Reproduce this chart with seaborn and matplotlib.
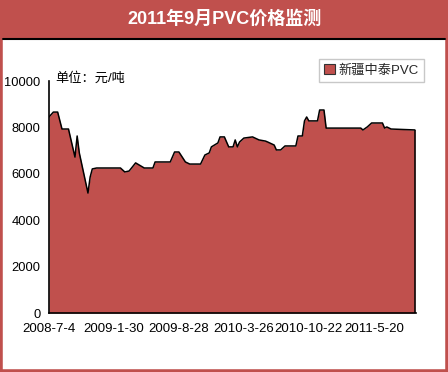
import matplotlib
matplotlib.use("Agg")
import matplotlib.pyplot as plt
import seaborn as sns
import pandas as pd
import numpy as np
from matplotlib.patches import Rectangle
from matplotlib.lines import Line2D

sns.set_theme(style="white")
plt.rcParams['font.family'] = ['Liberation Sans', 'Noto Sans CJK SC', 'DejaVu Sans']

title = "2011年9月PVC价格监测"
unit_label = "单位：元/吨"
series_name = "新疆中泰PVC"
start_date = "2008-07-04"
tick_dates = ["2008-07-04", "2009-01-30", "2009-08-28", "2010-03-26", "2010-10-22", "2011-05-20"]
tick_labels = ["2008-7-4", "2009-1-30", "2009-8-28", "2010-3-26", "2010-10-22", "2011-5-20"]

# weeks since 2008-7-4 and price (yuan/ton)
weeks = [0, 2, 4, 6, 9, 12, 13, 14, 18, 19, 20, 22, 33, 35, 37, 40, 44, 48, 49, 56,
         58, 60, 63, 65, 70, 72, 74, 75, 78, 79, 81, 83, 85, 86, 87, 88, 90, 94, 97, 100,
         101, 104, 105, 107, 109, 114, 115, 117, 118, 119, 120, 124, 125, 127, 128, 144,
         145, 147, 149, 154, 155, 156, 158, 169]
prices = [8450, 8660, 8660, 7930, 7930, 6720, 7630, 6900, 5170, 5860, 6210, 6250, 6250, 6080, 6120, 6470, 6250, 6250, 6510, 6510,
          6940, 6940, 6510, 6420, 6420, 6810, 6900, 7160, 7330, 7590, 7590, 7160, 7160, 7460, 7160, 7370, 7540, 7590, 7460, 7410,
          7370, 7240, 7030, 7030, 7200, 7200, 7630, 7630, 8280, 8450, 8280, 8280, 8750, 8750, 7970, 7970,
          7890, 8020, 8190, 8190, 7970, 8020, 7930, 7890]

t0 = pd.Timestamp(start_date)
df = pd.DataFrame({"date": [t0 + pd.Timedelta(weeks=w) for w in weeks], "price": prices})

red = "#C0504D"
W, H = 448, 372
fig = plt.figure(figsize=(W / 100, H / 100), dpi=100)
fig.patch.set_facecolor("white")

# outer frame and title bar
fig.patches.append(Rectangle((0, 0), 1, 1, transform=fig.transFigure, facecolor="none",
                             edgecolor=red, linewidth=4, zorder=0))
fig.patches.append(Rectangle((0, 1 - 38 / H), 1, 38 / H, transform=fig.transFigure,
                             facecolor=red, edgecolor="none", zorder=1))
fig.lines.append(Line2D([3 / W, 445 / W], [1 - 38.5 / H, 1 - 38.5 / H], transform=fig.transFigure,
                        color="black", linewidth=1.5))
fig.text(0.5, 1 - 19 / H, title, color="white", fontsize=13, fontweight="bold",
         ha="center", va="center", family=['Liberation Sans', 'Noto Sans CJK SC'])

ax = fig.add_axes([49 / W, 1 - 313 / H, (416 - 49) / W, (313 - 81) / H])
ax.set_facecolor("white")
ax.fill_between(df["date"], df["price"], 0, color=red, linewidth=0, label=series_name)
sns.lineplot(data=df, x="date", y="price", ax=ax, color="black", linewidth=1.1, legend=False)
last = df.iloc[-1]
ax.vlines(last["date"], 0, last["price"], color="black", linewidth=1.1)

ax.set_ylim(0, 10000)
ax.set_xlim(t0, t0 + pd.Timedelta(weeks=169.5))
ax.set_yticks([0, 2000, 4000, 6000, 8000, 10000])
ax.set_yticklabels(["0", "2000", "4000", "6000", "8000", "10000"], fontsize=9.3)
ax.set_xticks(pd.to_datetime(tick_dates))
ax.set_xticklabels(tick_labels, fontsize=9.5)
ax.tick_params(axis="both", direction="out", length=3, width=1, color="black", labelcolor="black")
ax.tick_params(axis="y", pad=3)
ax.tick_params(axis="x", pad=4)
ax.set_xlabel("")
ax.set_ylabel("")
for s in ["top", "right"]:
    ax.spines[s].set_visible(False)
for s in ["left", "bottom"]:
    ax.spines[s].set_color("black")
    ax.spines[s].set_linewidth(1.2)

ax.text(55 / W, 1 - 78 / H, unit_label, transform=fig.transFigure, fontsize=9.5,
        ha="left", va="center", color="black")

handles = [Rectangle((0, 0), 1, 1, facecolor=red, edgecolor="#333333", linewidth=0.8)]
leg = ax.legend(handles, [series_name], loc="upper left", bbox_to_anchor=(319 / W, 1 - 59 / H),
                bbox_transform=fig.transFigure, fontsize=9.5, frameon=True, fancybox=False,
                handlelength=0.8, handleheight=0.8, handletextpad=0.3, borderpad=0.4,
                borderaxespad=0)
leg.get_frame().set_edgecolor("#BBBBBB")
leg.get_frame().set_linewidth(1)

fig.savefig("out.png", dpi=100)
